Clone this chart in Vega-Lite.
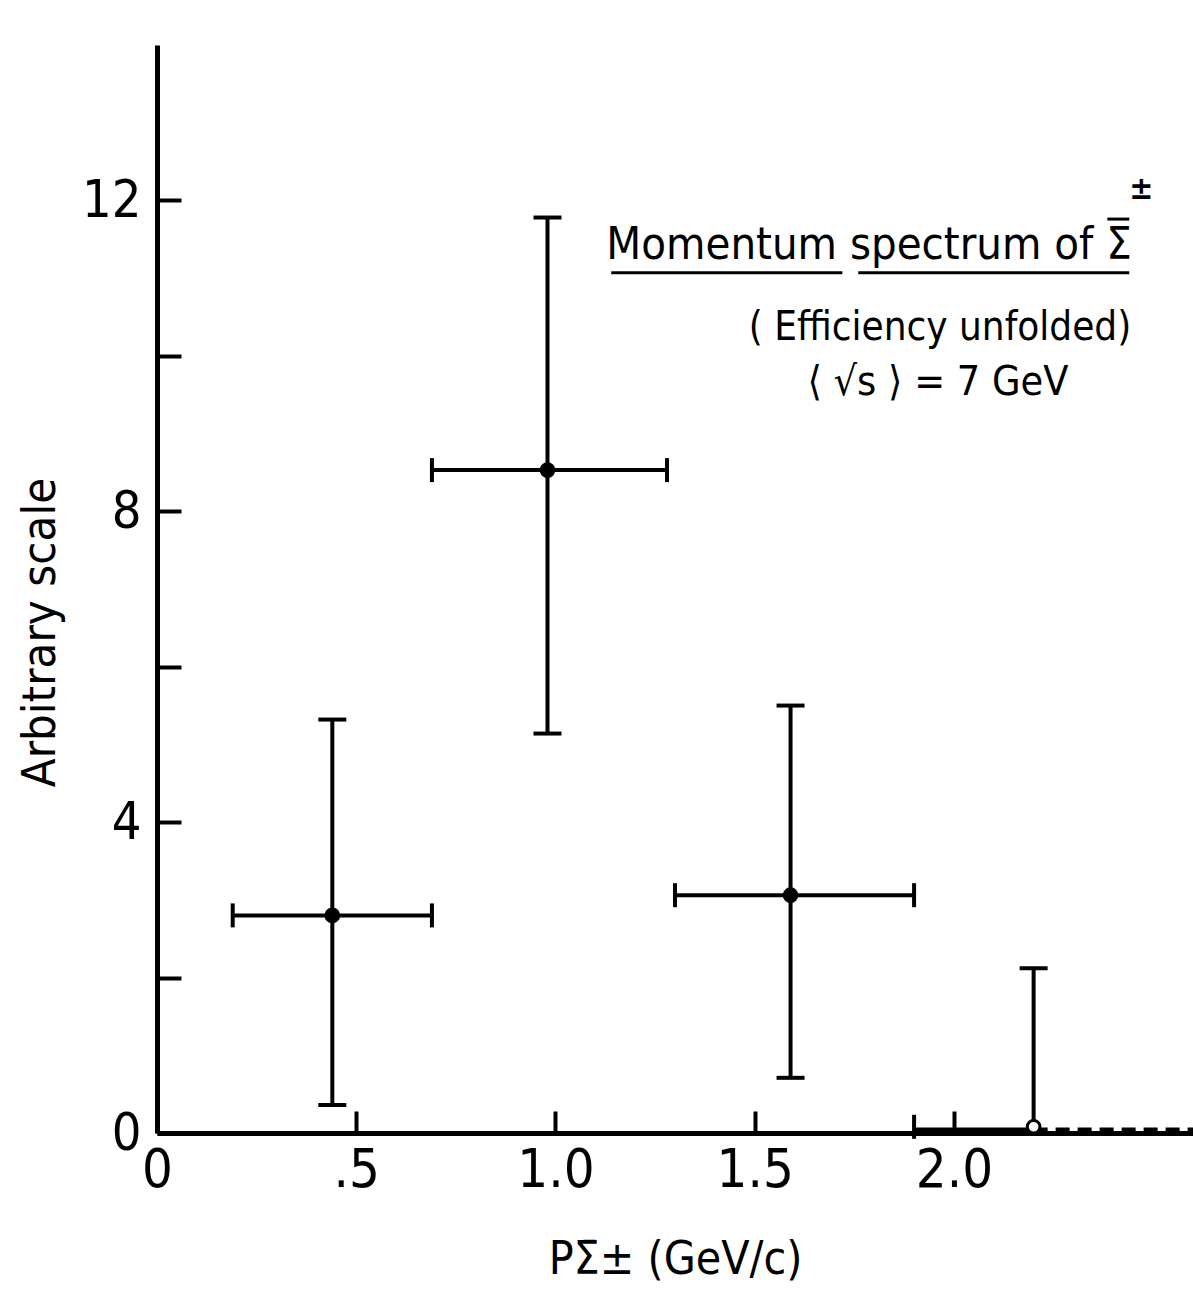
{
  "$schema": "https://vega.github.io/schema/vega-lite/v6.json",
  "width": 1036,
  "height": 1088,
  "autosize": {"type": "none"},
  "padding": {"left": 157, "top": 45, "right": 0, "bottom": 174},
  "background": "white",
  "config": {
    "view": {"stroke": null},
    "font": "DejaVu Sans Condensed, Liberation Sans Narrow, sans-serif"
  },
  "datasets": {
    "pts": [
      {"x": 0.44, "y": 2.8, "xlo": 0.19, "xhi": 0.69, "ylo": 0.36, "yhi": 5.32, "kind": "filled"},
      {"x": 0.98, "y": 8.53, "xlo": 0.69, "xhi": 1.28, "ylo": 5.14, "yhi": 11.78, "kind": "filled"},
      {"x": 1.59, "y": 3.06, "xlo": 1.30, "xhi": 1.90, "ylo": 0.71, "yhi": 5.50, "kind": "filled"},
      {"x": 2.20, "y": 0.08, "xlo": 1.90, "xhi": 2.20, "ylo": 0.08, "yhi": 2.12, "kind": "open"}
    ],
    "tail": [
      {"x1": 1.90, "x2": 2.20, "y": 0.04, "style": "solid"},
      {"x1": 2.20, "x2": 2.60, "y": 0.04, "style": "dashed"}
    ],
    "notes": [
      {"tx": 1.787, "ty": 11.25, "label": "Momentum spectrum of Σ", "size": 45},
      {"tx": 1.965, "ty": 10.2, "label": "( Efficiency unfolded)", "size": 40},
      {"tx": 1.96, "ty": 9.49, "label": "⟨ √s ⟩ = 7 GeV", "size": 41}
    ],
    "lines": [
      {"u1": 1.14, "u2": 1.72, "uy": 11.07, "w": 3},
      {"u1": 1.76, "u2": 2.44, "uy": 11.07, "w": 3},
      {"u1": 2.385, "u2": 2.44, "uy": 11.76, "w": 3}
    ]
  },
  "layer": [
    {
      "data": {"name": "pts"},
      "mark": {"type": "rule", "color": "black", "strokeWidth": 4},
      "encoding": {
        "x": {
          "field": "x", "type": "quantitative",
          "scale": {"domain": [0, 2.6], "nice": false, "zero": false},
          "axis": {
            "values": [0, 0.5, 1.0, 1.5, 2.0],
            "labelExpr": "datum.value == 0 ? '0' : datum.value == 0.5 ? '.5' : format(datum.value, '.1f')",
            "labelFlush": false,
            "title": "PΣ̄±  (GeV/c)",
            "titleFontSize": 46, "titleFontWeight": "normal", "titleColor": "black",
            "titlePadding": 40,
            "labelFontSize": 54, "labelColor": "black", "labelPadding": 32,
            "tickSize": -22, "tickWidth": 4, "tickColor": "black",
            "domainWidth": 5, "domainColor": "black", "grid": false
          }
        },
        "y": {
          "field": "ylo", "type": "quantitative",
          "scale": {"domain": [0, 14], "nice": false},
          "axis": {
            "values": [0, 2, 4, 6, 8, 10, 12],
            "labelExpr": "datum.value % 4 == 0 ? format(datum.value, 'd') : ''",
            "title": "Arbitrary scale",
            "titleFontSize": 47, "titleFontWeight": "normal", "titleColor": "black",
            "titleAngle": -90, "titleX": -117, "titleY": 587,
            "titleAlign": "center", "titleBaseline": "middle",
            "labelFontSize": 52, "labelColor": "black", "labelPadding": 40,
            "tickSize": -24, "tickWidth": 4, "tickColor": "black",
            "domainWidth": 5, "domainColor": "black", "grid": false
          }
        },
        "y2": {"field": "yhi"}
      }
    },
    {
      "data": {"name": "pts"},
      "transform": [{"filter": "datum.kind == 'filled'"}],
      "mark": {"type": "rule", "color": "black", "strokeWidth": 4},
      "encoding": {
        "x": {"field": "xlo", "type": "quantitative"},
        "x2": {"field": "xhi"},
        "y": {"field": "y", "type": "quantitative"}
      }
    },
    {
      "data": {"name": "pts"},
      "mark": {"type": "tick", "color": "black", "opacity": 1, "orient": "horizontal", "thickness": 4, "size": 28},
      "encoding": {
        "x": {"field": "x", "type": "quantitative"},
        "y": {"field": "yhi", "type": "quantitative"}
      }
    },
    {
      "data": {"name": "pts"},
      "transform": [{"filter": "datum.kind == 'filled'"}],
      "mark": {"type": "tick", "color": "black", "opacity": 1, "orient": "horizontal", "thickness": 4, "size": 28},
      "encoding": {
        "x": {"field": "x", "type": "quantitative"},
        "y": {"field": "ylo", "type": "quantitative"}
      }
    },
    {
      "data": {"name": "pts"},
      "mark": {"type": "tick", "color": "black", "opacity": 1, "orient": "vertical", "thickness": 4, "size": 24},
      "encoding": {
        "x": {"field": "xlo", "type": "quantitative"},
        "y": {"field": "y", "type": "quantitative"}
      }
    },
    {
      "data": {"name": "pts"},
      "transform": [{"filter": "datum.kind == 'filled'"}],
      "mark": {"type": "tick", "color": "black", "opacity": 1, "orient": "vertical", "thickness": 4, "size": 24},
      "encoding": {
        "x": {"field": "xhi", "type": "quantitative"},
        "y": {"field": "y", "type": "quantitative"}
      }
    },
    {
      "data": {"name": "tail"},
      "transform": [{"filter": "datum.style == 'solid'"}],
      "mark": {"type": "rule", "color": "black", "strokeWidth": 5},
      "encoding": {
        "x": {"field": "x1", "type": "quantitative"},
        "x2": {"field": "x2"},
        "y": {"field": "y", "type": "quantitative"}
      }
    },
    {
      "data": {"name": "tail"},
      "transform": [{"filter": "datum.style == 'dashed'"}],
      "mark": {"type": "rule", "color": "black", "strokeWidth": 5, "strokeDash": [14, 8]},
      "encoding": {
        "x": {"field": "x1", "type": "quantitative"},
        "x2": {"field": "x2"},
        "y": {"field": "y", "type": "quantitative"}
      }
    },
    {
      "data": {"name": "pts"},
      "mark": {"type": "point", "shape": "circle", "size": 160, "strokeWidth": 3, "opacity": 1},
      "encoding": {
        "x": {"field": "x", "type": "quantitative"},
        "y": {"field": "y", "type": "quantitative"},
        "fill": {"field": "kind", "type": "nominal", "scale": {"domain": ["filled", "open"], "range": ["black", "white"]}, "legend": null},
        "stroke": {"value": "black"}
      }
    },
    {
      "data": {"name": "notes"},
      "mark": {"type": "text", "color": "black", "align": "center", "baseline": "alphabetic"},
      "encoding": {
        "x": {"field": "tx", "type": "quantitative"},
        "y": {"field": "ty", "type": "quantitative"},
        "text": {"field": "label"},
        "size": {"field": "size", "type": "quantitative", "scale": null}
      }
    },
    {
      "data": {"values": [{"sx": 2.47, "sy": 12.15, "s": "±"}]},
      "mark": {"type": "text", "color": "black", "fontSize": 32, "fontWeight": "bold"},
      "encoding": {
        "x": {"field": "sx", "type": "quantitative"},
        "y": {"field": "sy", "type": "quantitative"},
        "text": {"field": "s"}
      }
    },
    {
      "data": {"name": "lines"},
      "mark": {"type": "rule", "color": "black"},
      "encoding": {
        "x": {"field": "u1", "type": "quantitative"},
        "x2": {"field": "u2"},
        "y": {"field": "uy", "type": "quantitative"},
        "strokeWidth": {"field": "w", "type": "quantitative", "scale": null}
      }
    }
  ]
}
